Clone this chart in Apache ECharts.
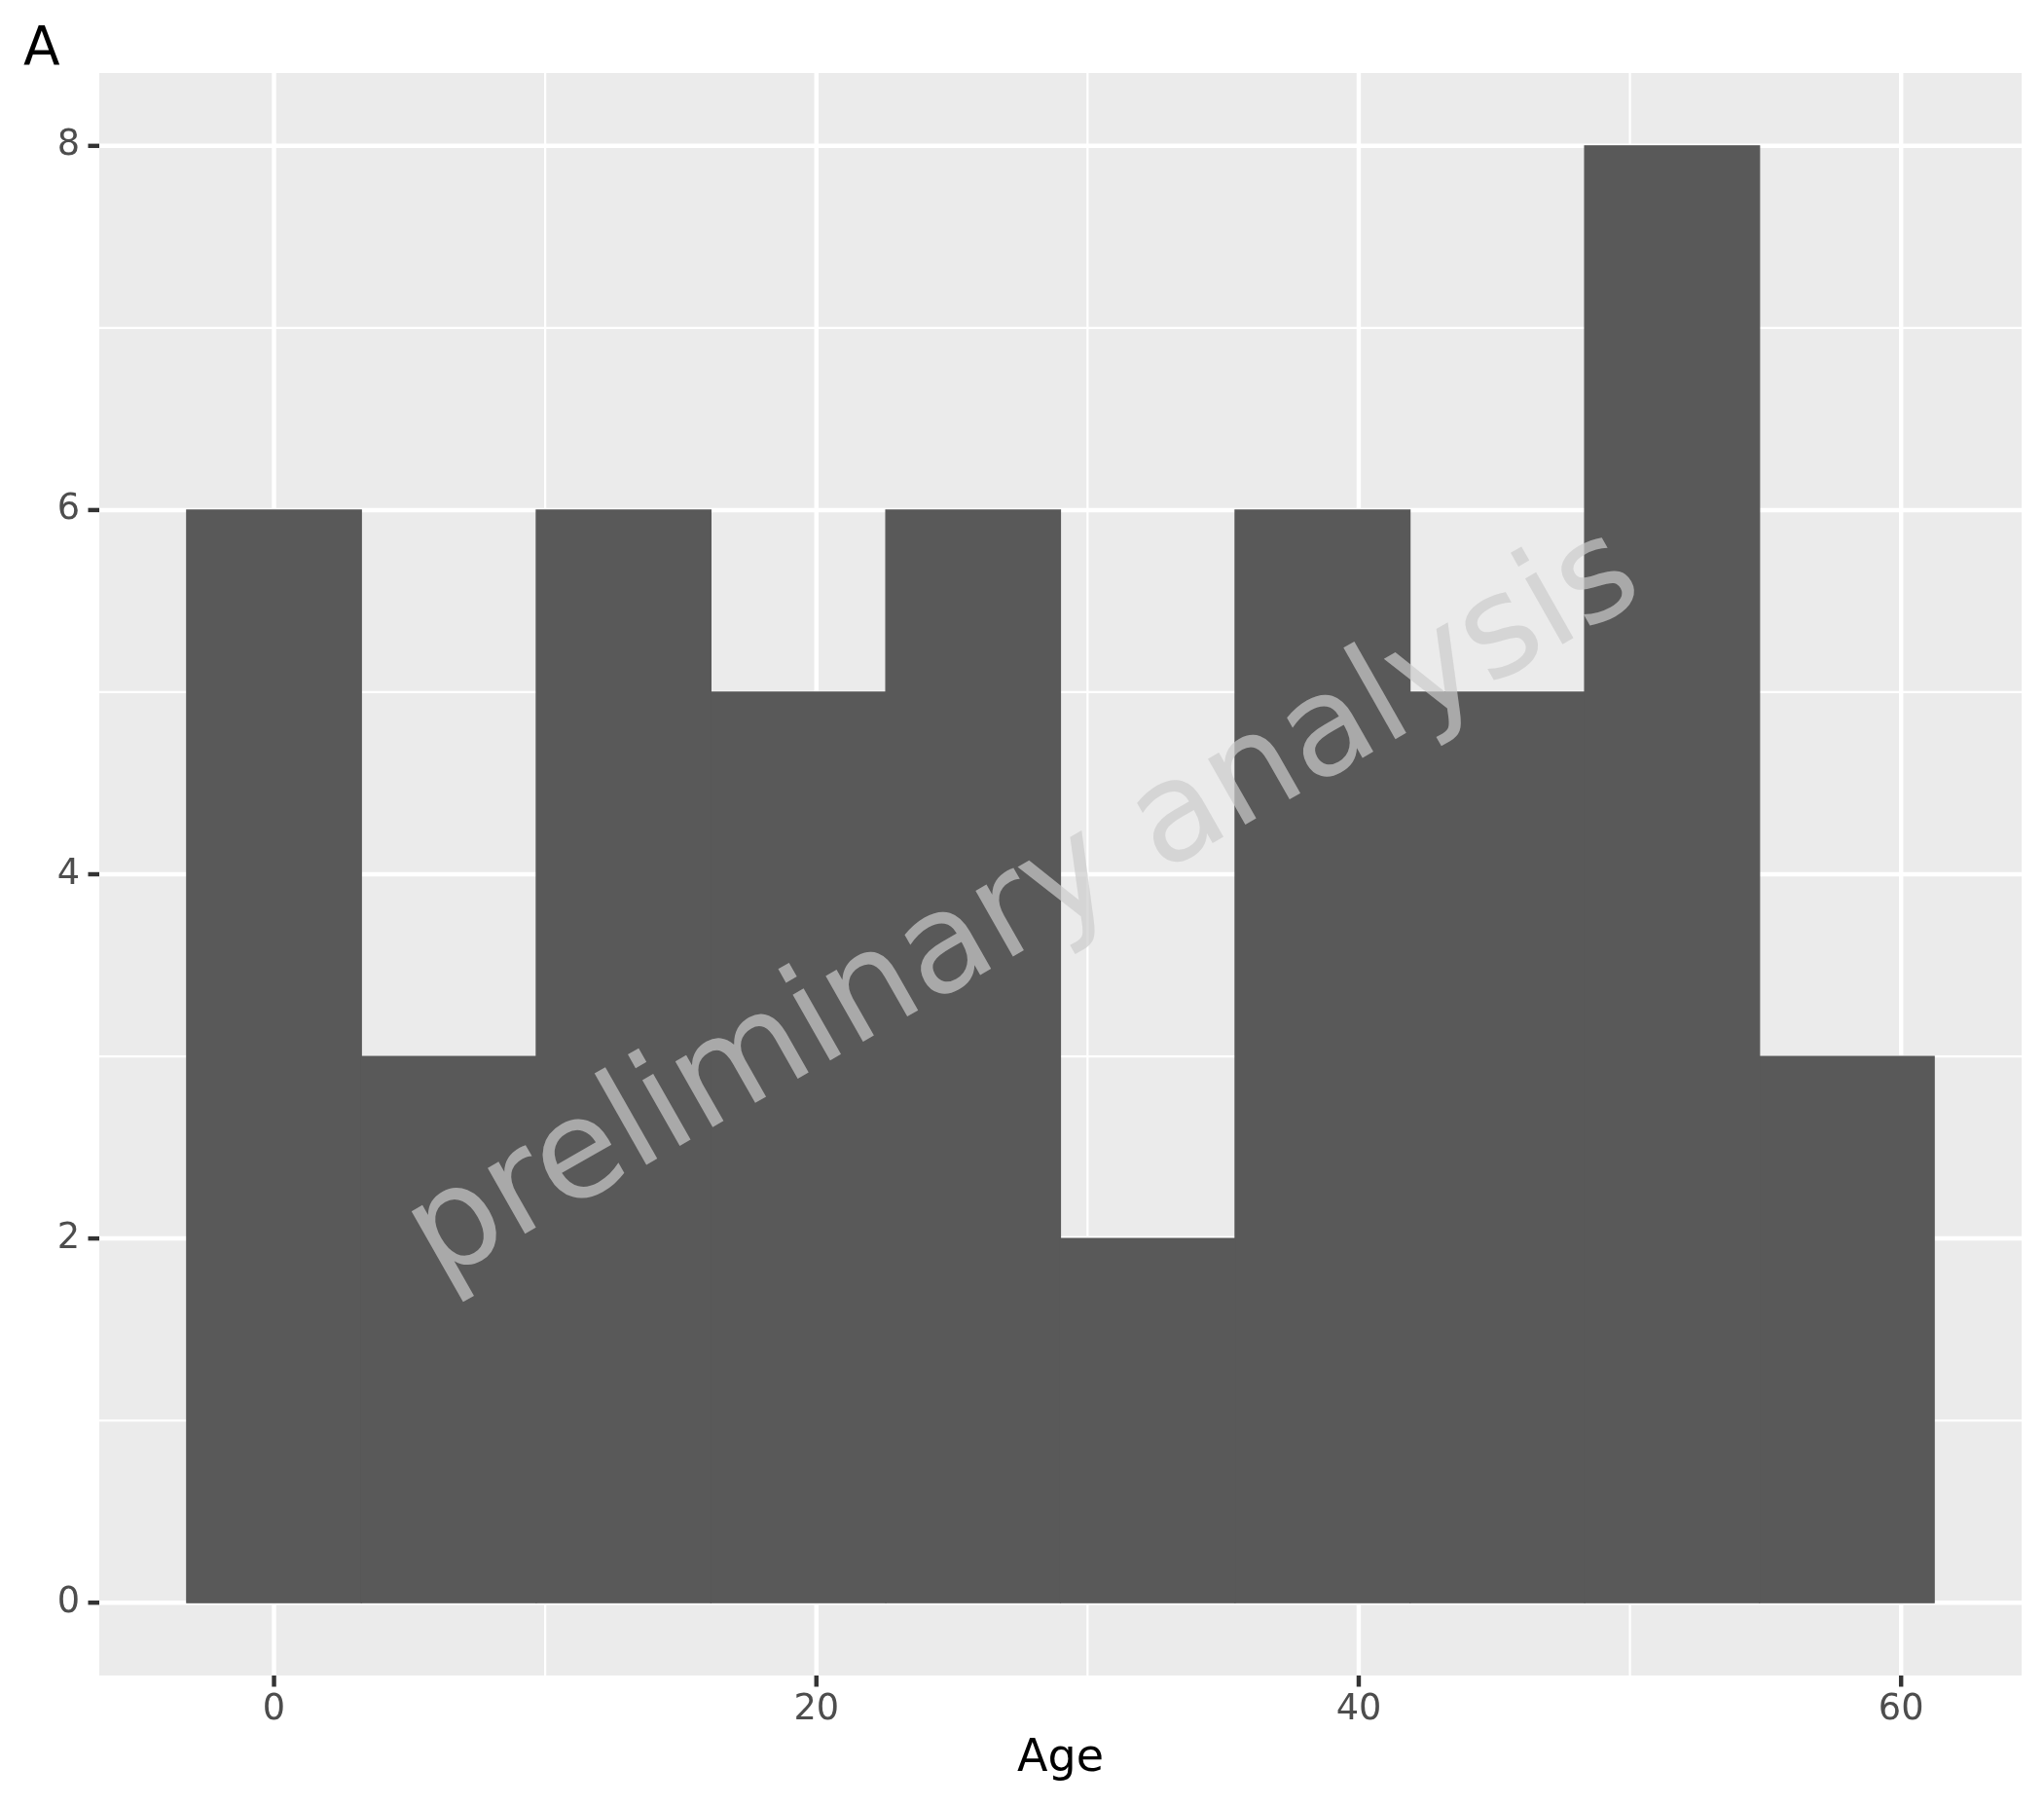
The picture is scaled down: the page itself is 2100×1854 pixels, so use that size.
<!DOCTYPE html>
<html>
<head>
<meta charset="utf-8">
<script src="https://cdn.jsdelivr.net/npm/echarts@6/dist/echarts.min.js"></script>
<style>
html,body{margin:0;padding:0;background:#fff;}
#chart{width:2100px;height:1854px;}
</style>
</head>
<body>
<div id="chart"></div>
<script>
// Histogram bins (Age) and counts
const binStart = [-3.22, 3.22, 9.67, 16.11, 22.56, 29.00, 35.44, 41.89, 48.33, 54.78];
const binEnd   = [ 3.22, 9.67, 16.11, 22.56, 29.00, 35.44, 41.89, 48.33, 54.78, 61.22];
const counts   = [6, 3, 6, 5, 6, 2, 6, 5, 8, 3];

// Axis ticks
const ageTicks = [0, 20, 40, 60];
const ageMinor = [10, 30, 50];
const countTicks = [0, 2, 4, 6, 8];
const countMinor = [1, 3, 5, 7];

const xTitle = 'Age';
const tagText = 'A';
const watermark = 'preliminary analysis';

const FONT = 'DejaVu Sans';

const barData = counts.map((c, i) => [binStart[i], binEnd[i], c]);
const gridData = [];
ageTicks.forEach(v => gridData.push([v, 1, 1]));
ageMinor.forEach(v => gridData.push([v, 1, 0]));
countTicks.forEach(v => gridData.push([v, 0, 1]));
countMinor.forEach(v => gridData.push([v, 0, 0]));
const tickData = [];
ageTicks.forEach(v => tickData.push([v, 1]));
countTicks.forEach(v => tickData.push([v, 0]));

const chart = echarts.init(document.getElementById('chart'), null, {renderer: 'canvas'});

const option = {
  animation: false,
  backgroundColor: '#ffffff',
  title: {
    text: tagText,
    left: 19,
    top: 19,
    textStyle: {fontFamily: FONT, fontSize: 55, fontWeight: 'normal', color: '#000000'}
  },
  grid: {
    left: 102, top: 75, right: 23, bottom: 133,
    show: true, backgroundColor: '#EBEBEB', borderWidth: 0
  },
  xAxis: {
    type: 'value',
    min: -6.444, max: 64.444,
    name: xTitle,
    nameLocation: 'middle',
    nameGap: 63,
    nameTextStyle: {fontFamily: FONT, fontSize: 46, color: '#000000'},
    axisLine: {show: false, onZero: false},
    axisTick: {show: false},
    axisLabel: {fontFamily: FONT, fontSize: 36.7, color: '#4D4D4D', margin: 17, customValues: ageTicks},
    splitLine: {show: false},
    minorSplitLine: {show: false}
  },
  yAxis: {
    type: 'value',
    min: -0.4, max: 8.4,
    axisLine: {show: false, onZero: false},
    axisTick: {show: false},
    axisLabel: {fontFamily: FONT, fontSize: 36.7, color: '#4D4D4D', margin: 20, customValues: countTicks},
    splitLine: {show: false}
  },
  series: [
    {
      type: 'custom',
      z: 1,
      silent: true,
      data: gridData,
      renderItem: function (params, api) {
        const v = api.value(0), isX = api.value(1), major = api.value(2);
        const cs = params.coordSys;
        const w = major ? 4.44 : 2.22;
        let shape;
        if (isX) {
          const p = api.coord([v, 0]);
          shape = {x1: p[0], y1: cs.y, x2: p[0], y2: cs.y + cs.height};
        } else {
          const p = api.coord([0, v]);
          shape = {x1: cs.x, y1: p[1], x2: cs.x + cs.width, y2: p[1]};
        }
        return {type: 'line', shape: shape, style: {stroke: '#FFFFFF', lineWidth: w}};
      }
    },
    {
      type: 'custom',
      z: 1,
      silent: true,
      clip: false,
      data: tickData,
      renderItem: function (params, api) {
        const v = api.value(0), isX = api.value(1);
        const cs = params.coordSys;
        const L = 11.5;
        let shape;
        if (isX) {
          const p = api.coord([v, 0]);
          const yb = cs.y + cs.height;
          shape = {x1: p[0], y1: yb, x2: p[0], y2: yb + L};
        } else {
          const p = api.coord([0, v]);
          shape = {x1: cs.x - L, y1: p[1], x2: cs.x, y2: p[1]};
        }
        return {type: 'line', shape: shape, style: {stroke: '#333333', lineWidth: 4.44}};
      }
    },
    {
      type: 'custom',
      z: 2,
      data: barData,
      renderItem: function (params, api) {
        const p0 = api.coord([api.value(0), 0]);
        const p1 = api.coord([api.value(1), api.value(2)]);
        return {
          type: 'rect',
          shape: {x: p0[0], y: p1[1], width: p1[0] - p0[0], height: p0[1] - p1[1]},
          style: {fill: '#595959', stroke: '#595959', lineWidth: 1.2}
        };
      }
    }
  ],
  graphic: [
    {
      type: 'text',
      x: 1053, y: 933,
      rotation: 29.6 * Math.PI / 180,
      z: 100,
      style: {
        text: watermark,
        fontFamily: FONT,
        fontSize: 142,
        fill: 'rgba(204,204,204,0.7)',
        align: 'center',
        verticalAlign: 'middle'
      }
    }
  ]
};
chart.setOption(option);
</script>
</body>
</html>
